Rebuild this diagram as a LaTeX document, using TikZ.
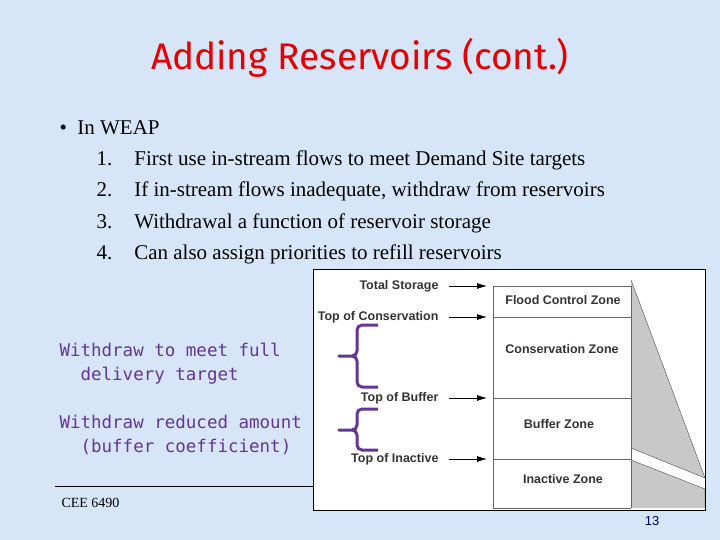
\documentclass[tikz,border=0pt]{standalone}
\usepackage{fontspec}
\setmainfont{Liberation Serif}
\newfontfamily\titlefont{Fira Sans}
\newfontfamily\labfont{Liberation Sans}
\newfontfamily\monofont{DejaVu Sans Mono}
\usetikzlibrary{positioning,arrows.meta}
\definecolor{slidebg}{RGB}{214,230,248}
\definecolor{titlered}{RGB}{232,0,0}
\definecolor{bracepurple}{RGB}{102,51,153}
\definecolor{zonegrey}{RGB}{200,200,200}
\tikzset{
  item/.style={anchor=west,font=\fontsize{21}{25}\selectfont},
  levellab/.style={anchor=east,font=\labfont\bfseries\fontsize{12.5}{15}\selectfont,text=black!80},
  zonelab/.style={font=\labfont\bfseries\fontsize{12.5}{15}\selectfont,text=black!80},
  withdrawlab/.style={anchor=west,align=left,text=bracepurple,font=\monofont\fontsize{17.5}{24}\selectfont},
  levelarrow/.style={-{Latex[length=10pt,width=6pt]},thick},
  brc/.style={bracepurple,line width=3pt,rounded corners=5pt,line join=round}
}
\begin{document}
\begin{tikzpicture}[x=1pt,y=-1pt]
  \fill[slidebg] (0,0) rectangle (720,540);
  \useasboundingbox (0,0) rectangle (720,540);
  \node[text=titlered,font=\titlefont\fontsize{37}{42}\selectfont] (title) at (360,58) {Adding Reservoirs (cont.)};
  \node[item] (weap) at (56,128) {\textbullet\ \ In WEAP};
  \foreach \n/\y/\t in {1/160/{First use in-stream flows to meet Demand Site targets},
                        2/191/{If in-stream flows inadequate, withdraw from reservoirs},
                        3/223/{Withdrawal a function of reservoir storage},
                        4/254/{Can also assign priorities to refill reservoirs}}
    \node[item] (it\n) at (93,\y) {\n.\hspace{1.05em}\t};
  % reservoir figure
  \fill[white] (313,269) rectangle (705,510);
  \fill[zonegrey] (631,280) -- (705,478) -- (631,448) -- cycle;
  \fill[zonegrey] (631,460) -- (705,489) -- (705,508) -- (631,508) -- cycle;
  \draw[black!70] (631,280) -- (705,478) -- (631,448);
  \draw[black!70] (631,460) -- (705,489) -- (705,508);
  \draw[black!60] (493,286) -- (493,508) -- (631,508);
  \draw[black!60] (631,286) -- (631,508);
  \foreach \y/\lab/\nm in {286/Total Storage/tot,317/Top of Conservation/con,398/Top of Buffer/buf,459/Top of Inactive/ina} {
    \draw[black!60] (493,\y) -- (631,\y);
    \coordinate (s\nm) at (449,\y);
    \coordinate (e\nm) at (487,\y);
    \draw[levelarrow] (s\nm) -- (e\nm);
    \node[levellab] (l\nm) at (442,\y) {\lab};
  }
  \node[zonelab] (flood) at (563,300) {Flood Control Zone};
  \node[zonelab] (conz) at (562,349) {Conservation Zone};
  \node[zonelab] (bufz) at (559,424) {Buffer Zone};
  \node[zonelab] (inaz) at (563,479) {Inactive Zone};
  \draw[black,thick] (313,269) rectangle (705,510);
  % braces
  \draw[brc] (378,325) -- (357,325) -- (357,356) -- (336,356) -- (357,356) -- (357,387) -- (378,387);
  \draw[brc] (378,409) -- (357,409) -- (357,430) -- (336,430) -- (357,430) -- (357,450) -- (378,450);
  \node[withdrawlab] (wfull) at (56,364) {Withdraw\ to meet full\\\ \ delivery target};
  \node[withdrawlab] (wred) at (56,435) {Withdraw reduced amount\\\ \ (buffer coefficient)};
  \draw[black,thick] (55,486) -- (313,486);
  \node[anchor=west,font=\fontsize{14}{16}\selectfont] (cee) at (58,503) {CEE 6490};
  \node[text=black!60!blue,font=\labfont\fontsize{13}{15}\selectfont] (pg) at (652,521) {13};
\end{tikzpicture}
\end{document}
